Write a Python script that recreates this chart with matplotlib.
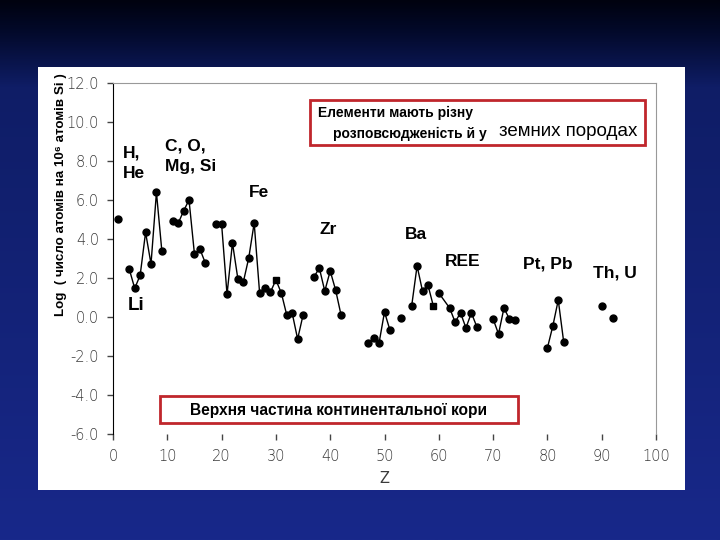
import matplotlib
matplotlib.use("Agg")
import matplotlib.pyplot as plt
import numpy as np
from matplotlib.patches import Rectangle
from matplotlib.colors import LinearSegmentedColormap

plt.rcParams["font.family"] = ["Liberation Sans", "DejaVu Sans"]

# atomic number and log abundance (atoms per 10^6 Si atoms)
z = [1, 3, 4, 5, 6, 7, 8, 9, 11, 12, 13, 14, 15, 16, 17,
     19, 20, 21, 22, 23, 24, 25, 26, 27, 28, 29, 30, 31, 32, 33, 34, 35,
     37, 38, 39, 40, 41, 42, 47, 48, 49, 50, 51, 53,
     55, 56, 57, 58, 59, 60, 62, 63, 64, 65, 66, 67,
     70, 71, 72, 73, 74, 80, 81, 82, 83, 90, 92]
log_abund = [5.05, 2.45, 1.47, 2.14, 4.34, 2.72, 6.39, 3.37, 4.92, 4.8, 5.44, 6.0, 3.23, 3.49, 2.77,
             4.77, 4.77, 1.16, 3.8, 1.95, 1.79, 3.03, 4.82, 1.23, 1.49, 1.28, 1.9, 1.23, 0.1, 0.2, -1.13, 0.1,
             2.05, 2.51, 1.33, 2.36, 1.38, 0.1, -1.33, -1.08, -1.33, 0.26, -0.67, -0.05,
             0.56, 2.62, 1.33, 1.64, 0.56, 1.23, 0.46, -0.26, 0.21, -0.56, 0.21, -0.5,
             -0.1, -0.87, 0.46, -0.1, -0.15, -1.59, -0.46, 0.87, -1.28, 0.56, -0.05]
# connected runs (first Z, last Z)
runs = [(3, 9), (11, 17), (19, 35), (37, 42), (47, 51), (55, 59), (60, 67), (70, 74), (80, 83)]
square_z = [30, 59]

W, H = 720, 540
fig = plt.figure(figsize=(7.2, 5.4), dpi=100)


def px(x, y):
    return x / W, 1 - y / H


# slide background
bg = fig.add_axes([0, 0, 1, 1], zorder=-10)
cmap = LinearSegmentedColormap.from_list(
    "slide", [(0, "#00020f"), (0.06, "#030a2c"), (0.16, "#0f1d66"), (1, "#18288a")])
grad = np.linspace(0, 1, 256).reshape(-1, 1)
bg.imshow(grad, aspect="auto", cmap=cmap, extent=[0, 1, 0, 1], origin="upper")
bg.set_xlim(0, 1)
bg.set_ylim(0, 1)
bg.axis("off")
x0, y0 = px(38, 490)
bg.add_patch(Rectangle((x0, y0), 647 / W, 423 / H, facecolor="white", edgecolor="none"))

# main axes
l, b = px(113, 434)
ax = fig.add_axes([l, b, (656 - 113) / W, (434 - 83) / H])
ax.set_facecolor("none")
ax.set_xlim(0, 100)
ax.set_ylim(-6, 12)

zs = np.array(z)
vals = np.array(log_abund)
for start, end in runs:
    m = (zs >= start) & (zs <= end)
    ax.plot(zs[m], vals[m], color="black", lw=1, zorder=2)
round_m = ~np.isin(zs, square_z)
ax.plot(zs[round_m], vals[round_m], ls="none", marker="o", ms=5, color="black", zorder=3)
sq_m = np.isin(zs, square_z)
ax.plot(zs[sq_m], vals[sq_m], ls="none", marker="s", ms=4.6, color="black", zorder=3)

ax.set_xticks(np.arange(0, 101, 10))
ax.set_yticks(np.arange(-6, 12.1, 2))
ax.set_yticklabels([f"{v:.1f}" for v in np.arange(-6, 12.1, 2)])
ax.tick_params(axis="both", direction="out", length=4, width=1, color="#444444",
               labelcolor="#3a3a3a", labelsize=10.5)
ax.tick_params(axis="x", pad=7)
ax.tick_params(axis="y", pad=6)
for lab in ax.get_xticklabels() + ax.get_yticklabels():
    lab.set_fontfamily(["DejaVu Sans"])
    lab.set_fontweight("light")
ax.spines["bottom"].set_visible(False)
ax.spines["left"].set_color("black")
ax.spines["top"].set_color("#999999")
ax.spines["right"].set_color("#999999")
ax.set_xlabel("Z", color="#3a3a3a", fontsize=10.5, labelpad=5, family=["DejaVu Sans"])

# y label
fig.text(*px(61, 195), "Log  ( число атомів на 10⁶ атомів Si )", rotation=90,
         ha="center", va="center", fontsize=9.6, fontweight="bold")

# element group labels
labels = [
    ("H,\nHe", 123, 163, 12.5),
    ("C, O,\nMg, Si", 165, 156, 12.5),
    ("Fe", 249, 192, 12.5),
    ("Zr", 320, 229, 12.5),
    ("Ba", 405, 235, 12.5),
    ("REE", 445, 261, 12.5),
    ("Pt, Pb", 523, 264, 12.5),
    ("Th, U", 593, 273, 12.5),
    ("Li", 128, 306, 13.5),
]
for txt, x, y, fs in labels:
    fig.text(*px(x, y), txt, ha="left", va="center", fontsize=fs,
             fontweight="bold", linespacing=1.45)

# top note box
red = "#c0262c"
bx, by = px(310, 145)
fig.add_artist(Rectangle((bx, by), 335 / W, 45 / H, transform=fig.transFigure,
                         facecolor="white", edgecolor=red, lw=2))
fig.text(*px(318, 113), "Елементи мають різну", ha="left", va="center",
         fontsize=10, fontweight="bold")
fig.text(*px(333, 134), "розповсюдженість й у", ha="left", va="center",
         fontsize=10, fontweight="bold")
fig.text(*px(637, 132), "земних породах", ha="right", va="center",
         fontsize=13.5)

# bottom note box
bx, by = px(160, 423)
fig.add_artist(Rectangle((bx, by), 358 / W, 27 / H, transform=fig.transFigure,
                         facecolor="white", edgecolor=red, lw=2))
fig.text(*px(339, 410), "Верхня частина континентальної кори", ha="center",
         va="center", fontsize=11.2, fontweight="bold")

fig.savefig("out.png", dpi=100)
